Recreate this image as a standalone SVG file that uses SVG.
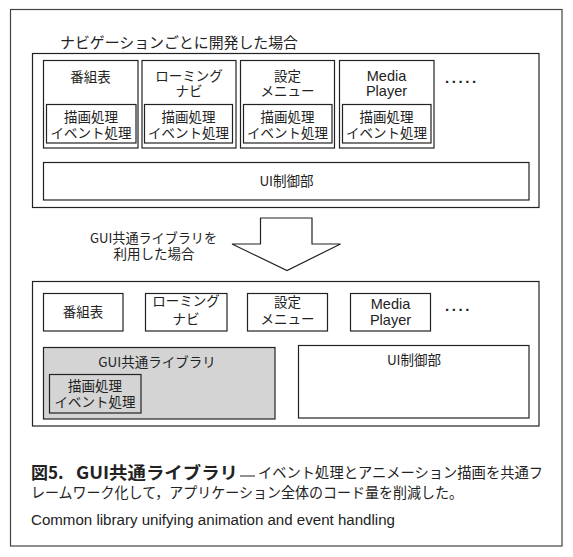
<svg xmlns="http://www.w3.org/2000/svg" width="573" height="557" viewBox="0 0 573 557">
<style>
  .box { fill: #ffffff; stroke: #222222; stroke-width: 1.2; }
  .gray { fill: #d4d4d4; stroke: #222222; stroke-width: 1.2; }
  .jp { font-family: "Noto Sans CJK JP", "Noto Sans", sans-serif; font-size: 13.5px; fill: #222222; text-anchor: middle; }
  .lat { font-family: "Liberation Sans", Arial, sans-serif; font-size: 14.5px; fill: #222222; text-anchor: middle; }
  .dots { font-family: "Liberation Sans", Arial, sans-serif; font-size: 15px; font-weight: bold; fill: #222222; letter-spacing: 2.6px; }
  .cap { font-family: "Noto Sans CJK JP", sans-serif; fill: #222222; }
</style>
<rect width="573" height="557" fill="#ffffff"/>
<rect id="frame" x="10.5" y="9.5" width="551.5" height="536.5" fill="none" stroke="#444444" stroke-width="1.2"/>

<g id="top-title">
  <text class="jp" x="179" y="47.5" style="font-size:15px" textLength="238" lengthAdjust="spacingAndGlyphs">ナビゲーションごとに開発した場合</text>
</g>
<g id="top-panel"><rect class="box" x="32.5" y="53.5" width="506.5" height="154"/></g>

<g id="top-bangumi">
  <rect class="box" x="43.5" y="60.5" width="94.5" height="87.5"/>
  <text class="jp" x="90.5" y="82">番組表</text>
  <rect class="box" x="46.5" y="104.5" width="89.5" height="38.5"/>
  <text class="jp" x="91" y="122">描画処理</text>
  <text class="jp" x="91" y="138">イベント処理</text>
</g>
<g id="top-roaming">
  <rect class="box" x="142" y="60.5" width="94" height="87.5"/>
  <text class="jp" x="189" y="81">ローミング</text>
  <text class="jp" x="189" y="96">ナビ</text>
  <rect class="box" x="144.5" y="104.5" width="88" height="38.5"/>
  <text class="jp" x="188.5" y="122">描画処理</text>
  <text class="jp" x="188.5" y="138">イベント処理</text>
</g>
<g id="top-settings">
  <rect class="box" x="240.5" y="60.5" width="94" height="87.5"/>
  <text class="jp" x="287.5" y="81">設定</text>
  <text class="jp" x="287.5" y="96">メニュー</text>
  <rect class="box" x="243.5" y="104.5" width="88.5" height="38.5"/>
  <text class="jp" x="287.5" y="122">描画処理</text>
  <text class="jp" x="287.5" y="138">イベント処理</text>
</g>
<g id="top-media">
  <rect class="box" x="339.5" y="60.5" width="94.5" height="87.5"/>
  <text class="lat" x="386.5" y="81">Media</text>
  <text class="lat" x="386.5" y="96">Player</text>
  <rect class="box" x="342.5" y="104.5" width="88.5" height="38.5"/>
  <text class="jp" x="386.5" y="122">描画処理</text>
  <text class="jp" x="386.5" y="138">イベント処理</text>
</g>
<g id="top-more"><text class="dots" x="445" y="83">.....</text></g>
<g id="top-ui">
  <rect class="box" x="43.5" y="162.5" width="485.5" height="37.5"/>
  <text class="jp" x="286.5" y="186">UI制御部</text>
</g>

<g id="connectors">
  <polygon class="box" points="260.5,218 312,218 312,244 340.5,244 287,270.5 232,244 260.5,244"/>
</g>
<g id="arrow-label">
  <text class="jp" x="153.5" y="243" textLength="127" lengthAdjust="spacingAndGlyphs">GUI共通ライブラリを</text>
  <text class="jp" x="154" y="259">利用した場合</text>
</g>

<g id="bottom-panel"><rect class="box" x="32.5" y="281.5" width="506.5" height="144.5"/></g>
<g id="bot-bangumi">
  <rect class="box" x="43.5" y="293.5" width="79.5" height="37.5"/>
  <text class="jp" x="83" y="317">番組表</text>
</g>
<g id="bot-roaming">
  <rect class="box" x="145.5" y="293.5" width="81.5" height="37.5"/>
  <text class="jp" x="186" y="306">ローミング</text>
  <text class="jp" x="186" y="324">ナビ</text>
</g>
<g id="bot-settings">
  <rect class="box" x="247.5" y="293.5" width="80" height="37.5"/>
  <text class="jp" x="287.5" y="307">設定</text>
  <text class="jp" x="287.5" y="324">メニュー</text>
</g>
<g id="bot-media">
  <rect class="box" x="350.5" y="293.5" width="80" height="37.5"/>
  <text class="lat" x="390.5" y="309">Media</text>
  <text class="lat" x="390.5" y="325">Player</text>
</g>
<g id="bot-more"><text class="dots" x="445" y="311">....</text></g>
<g id="bot-gui">
  <rect class="gray" x="43.5" y="347.5" width="231.5" height="71.5"/>
  <text class="jp" x="157" y="367">GUI共通ライブラリ</text>
  <rect class="gray" x="49.5" y="374.5" width="91.5" height="38.5"/>
  <text class="jp" x="95" y="390.5">描画処理</text>
  <text class="jp" x="95" y="407">イベント処理</text>
</g>
<g id="bot-ui">
  <rect class="box" x="298.5" y="345.5" width="230.5" height="72.5"/>
  <text class="jp" x="414" y="365">UI制御部</text>
</g>

<g id="caption">
  <text class="cap" x="31" y="478.5" style="font-size:17px;font-weight:bold">図5.</text>
  <text class="cap" x="76" y="478.5" style="font-size:17px;font-weight:bold" textLength="162" lengthAdjust="spacingAndGlyphs">GUI共通ライブラリ</text>
  <line x1="240" y1="476" x2="255" y2="476" stroke="#222222" stroke-width="1"/>
  <text class="cap" x="258" y="478" style="font-size:14.5px" textLength="285" lengthAdjust="spacingAndGlyphs">イベント処理とアニメーション描画を共通フ</text>
  <text class="cap" x="31" y="497.5" style="font-size:14.5px" textLength="432" lengthAdjust="spacingAndGlyphs">レームワーク化して，アプリケーション全体のコード量を削減した。</text>
  <text x="31" y="525" style="font-family:'Liberation Sans', Arial, sans-serif;font-size:14px;fill:#222222" textLength="364" lengthAdjust="spacingAndGlyphs">Common library unifying animation and event handling</text>
</g>
</svg>
